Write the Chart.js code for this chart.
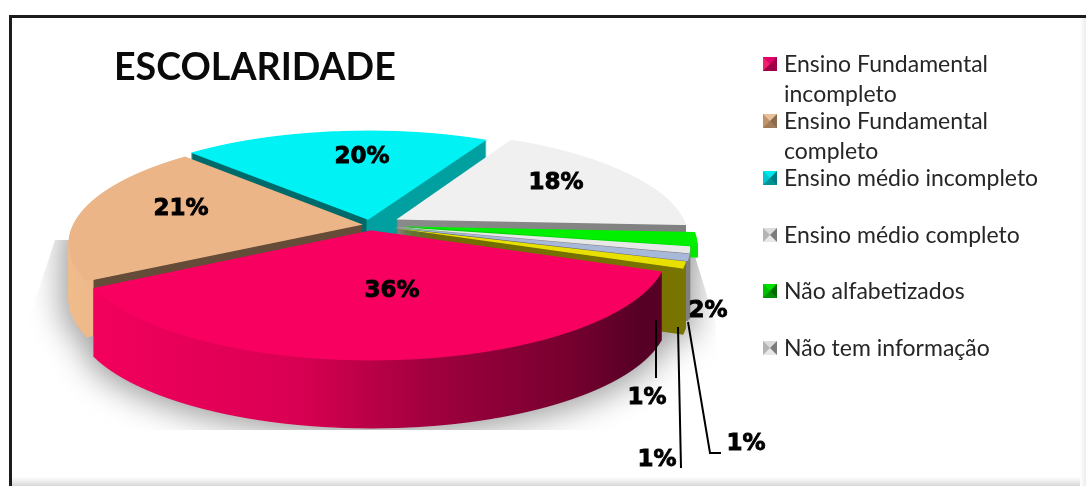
<!DOCTYPE html>
<html>
<head>
<meta charset="utf-8">
<script src="https://cdn.jsdelivr.net/npm/chart.js@4"></script>
<style>
  html, body { margin: 0; padding: 0; background: #fff; }
  #wrap { position: relative; width: 1086px; height: 486px; overflow: hidden; background: #fff; }
  #frame { position: absolute; left: 9px; top: 15px; right: -5px; bottom: -5px; border-left: 3px solid #1c1c1c; border-top: 3px solid #1c1c1c; background: #fff; }
  #edgeB { position: absolute; left: 12px; right: 0; bottom: 0; height: 9px; background: linear-gradient(#fff, #d8d8d8); }
  #edgeR { position: absolute; top: 18px; right: 0; bottom: 0; width: 6px; background: linear-gradient(90deg, #fff, #ececec); }
  canvas { position: absolute; left: 0; top: 0; }
  #title { position: absolute; left: 114px; top: 41px; font: bold 37.6px Lato, sans-serif; color: #0a0a0a; line-height: 50px; white-space: nowrap; }
  .leg { position: absolute; left: 784px; font: 23px/30px Lato, sans-serif; color: #262626; white-space: nowrap; }
  .mark { position: absolute; left: 763px; width: 0; height: 0; border-style: solid; border-width: 7px; }
</style>
</head>
<body>
<div id="wrap">
  <div id="frame"></div>
  <div id="edgeB"></div>
  <div id="edgeR"></div>
  <canvas id="pie" width="1086" height="486"></canvas>
  <div id="title">ESCOLARIDADE</div>
  <div id="legend"></div>
</div>
<script>
// data
const categories = ['Ensino Fundamental incompleto', 'Ensino Fundamental completo', 'Ensino médio incompleto',
  'Ensino médio completo', 'Não alfabetizados', 'Não tem informação', '', ''];
const percents = [36, 21, 20, 18, 2, 1, 1, 1];
const topColors = ['#f70060', '#ebb587', '#00f2f5', '#f0f0f0', '#00f000', '#e8e8e8', '#a8b8d8', '#e8e000'];

// side faces: [x, colour] stops in screen space, hard stops for the cut faces
const sideStops = [
  [[98, '#f2005c'], [300, '#d80052'], [430, '#a0003e'], [560, '#7a0030'], [640, '#560026']],
  [[68, '#f0bc8c'], [93, '#eeb98a'], [94, '#644c38'], [370, '#644c38']],
  [[190, '#006a6a'], [366, '#006a6a'], [367, '#00a0a0'], [498, '#00a0a0']],
  [[395, '#8a8a8a'], [690, '#808080']],
  [[390, '#00c800'], [694, '#00e800']],
  [[390, '#9a9a9a'], [694, '#808080']],
  [[390, '#46526a'], [694, '#808080']],
  [[390, '#6e6a00'], [690, '#7a7400']]
];

// squashed, perspective view of the pie
const view = { cx: 370, cy: 225, sx: 290, sy: 106, p: 0.17 };
const explode = [0.05, 0.025, 0.05, 0.105, 0.11, 0.085, 0.085, 0.08];
const depth = [68, 56, 50, 50, 12, 66, 60, 66];
const paintOrder = [2, 3, 1, 4, 5, 6, 7, 0];

const pctLabels = [
  [392, 291], [181, 209], [362, 157], [556, 183],
  [708, 311], [647, 398], [657, 460], [746, 444]
];
const leaders = [
  [[656, 320], [656, 378]],
  [[678, 327], [681, 468]],
  [[688, 322], [710, 453], [721, 453]]
];

const W = 1086, H = 486;

function makeCanvas() {
  const c = document.createElement('canvas');
  c.width = W; c.height = H;
  return c;
}

// draw one arc element row by row so the flat pie gets a true perspective
function drawFace(arc, i, octx) {
  const R = arc.outerRadius;
  const mid = (arc.startAngle + arc.endAngle) / 2;
  const ex = Math.cos(mid) * explode[i], ey = Math.sin(mid) * explode[i];
  for (let y = 100; y < 400; y++) {
    const t = y + 0.5 - view.cy;
    const denom = view.sy + view.p * t;
    const Yrow = t / denom;
    const w = 1 - view.p * Yrow;
    const dy = denom * denom / view.sy;
    octx.save();
    octx.beginPath();
    octx.rect(0, y, W, 1);
    octx.clip();
    octx.setTransform(
      view.sx / (w * R), 0, 0, dy / R,
      view.cx + (view.sx / w) * (ex - arc.x / R),
      y + 0.5 + (ey - arc.y / R - Yrow) * dy
    );
    arc.draw(octx);
    octx.restore();
  }
}

const pie3d = {
  id: 'pie3d',
  beforeDatasetsDraw(chart) {
    const ctx = chart.ctx;
    const arcs = chart.getDatasetMeta(0).data;
    const layers = [];
    const silhouette = makeCanvas().getContext('2d');

    paintOrder.forEach(i => {
      const face = makeCanvas();
      drawFace(arcs[i], i, face.getContext('2d'));
      const side = makeCanvas();
      const sctx = side.getContext('2d');
      for (let d = depth[i]; d >= 1; d--) sctx.drawImage(face, 0, d);
      silhouette.drawImage(side, 0, 0);
      silhouette.drawImage(face, 0, 0);
      const stops = sideStops[i];
      const x0 = stops[0][0], x1 = stops[stops.length - 1][0];
      const grad = sctx.createLinearGradient(x0, 0, x1, 0);
      stops.forEach(s => grad.addColorStop((s[0] - x0) / (x1 - x0), s[1]));
      sctx.globalCompositeOperation = 'source-in';
      sctx.fillStyle = grad;
      sctx.fillRect(0, 0, W, H);
      layers.push([side, face]);
    });

    // soft shadow, cut off by the picture box like in the original
    const sil = silhouette.canvas;
    silhouette.globalCompositeOperation = 'source-in';
    silhouette.fillStyle = '#9c9c9c';
    silhouette.fillRect(0, 0, W, H);
    ctx.save();
    ctx.beginPath();
    ctx.moveTo(55, 240); ctx.lineTo(27, 325); ctx.lineTo(60, 430);
    ctx.lineTo(716, 430); ctx.lineTo(716, 325); ctx.lineTo(690, 240);
    ctx.closePath();
    ctx.clip();
    ctx.filter = 'blur(16px)';
    ctx.drawImage(sil, -8, -2, W * 1.02, H * 1.02);
    ctx.restore();

    layers.forEach(l => { ctx.drawImage(l[0], 0, 0); ctx.drawImage(l[1], 0, 0); });

    // leader lines
    ctx.save();
    ctx.strokeStyle = '#000';
    ctx.lineWidth = 2;
    leaders.forEach(pts => {
      ctx.beginPath();
      pts.forEach((p, k) => k ? ctx.lineTo(p[0], p[1]) : ctx.moveTo(p[0], p[1]));
      ctx.stroke();
    });
    // percent labels
    ctx.font = 'bold 23px "DejaVu Sans"';
    ctx.textAlign = 'center';
    ctx.textBaseline = 'middle';
    ctx.fillStyle = '#000';
    ctx.lineWidth = 0.9;
    percents.forEach((v, i) => {
      const lab = pctLabels[i];
      ctx.strokeText(v + '%', lab[0], lab[1]);
      ctx.fillText(v + '%', lab[0], lab[1]);
    });
    ctx.restore();
    return false;
  }
};

new Chart(document.getElementById('pie'), {
  type: 'pie',
  data: {
    labels: categories,
    datasets: [{ data: percents, backgroundColor: topColors, borderWidth: 0 }]
  },
  options: {
    responsive: false,
    animation: false,
    rotation: 111,
    plugins: { legend: { display: false }, tooltip: { enabled: false } }
  },
  plugins: [pie3d]
});

// legend: pyramids + text, only the six named categories
const legendLines = [
  ['Ensino Fundamental', 'incompleto'], ['Ensino Fundamental', 'completo'], ['Ensino médio incompleto'],
  ['Ensino médio completo'], ['Não alfabetizados'], ['Não tem informação']
];
const legendY = [64, 121, 178, 235, 291, 348];
const legendMarks = [
  ['#e0006a', '#a00048', '#f0206a', '#a00048'],
  ['#e8c09c', '#8a6a4c', '#c09468', '#a07c58'],
  ['#00e8ec', '#007a80', '#00c8cc', '#009498'],
  ['#dcdcdc', '#7c7c7c', '#b4b4b4', '#e8e8e8'],
  ['#00e000', '#006a00', '#00c000', '#009000'],
  ['#dcdcdc', '#7c7c7c', '#b4b4b4', '#e8e8e8']
];
const legendEl = document.getElementById('legend');
legendEl.innerHTML = legendLines.map((lines, i) => {
  const m = legendMarks[i];
  return `<div class="mark" style="top:${legendY[i] - 7}px;border-color:${m[0]} ${m[1]} ${m[3]} ${m[2]};"></div>` +
    `<div class="leg" style="top:${legendY[i] - 16}px;">${lines.join('<br>')}</div>`;
}).join('');
</script>
</body>
</html>
